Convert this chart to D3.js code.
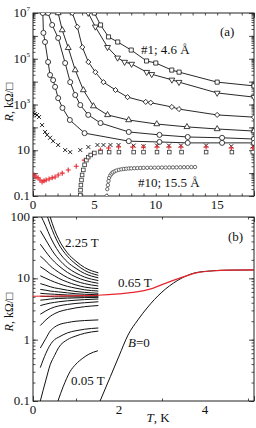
<!DOCTYPE html>
<html>
<head>
<meta charset="utf-8">
<script src="https://cdn.jsdelivr.net/npm/d3@7"></script>
<style>
body { margin: 0; background: #fff; }
</style>
</head>
<body>
<div id="chart"></div>
<script>
// ---- panel (a): R(T) of the film series, T in K, R in kOhm/sq ----
var sqT = [5.0, 5.5, 6.15, 6.9, 8.0, 9.25, 10.0, 11.3, 11.9, 15.0, 18.0];
var sqR = [1e7, 3.0e6, 9e5, 5.4e5, 2.4e5, 8e4, 6.5e4, 3.2e4, 2.6e4, 9.5e3, 6.5e3];
var tdT = [4.5, 5.08, 6.07, 6.89, 7.46, 8.03, 9.26, 9.67, 11.31, 11.89, 15.0, 18.0];
var tdR = [1e7, 2.5e6, 3.2e5, 1.1e5, 7.2e4, 5.9e4, 2.6e4, 2.1e4, 1.2e4, 9.5e3, 3.2e3, 2.1e3];
var dmT = [3.2, 3.61, 4.02, 4.51, 5.08, 5.74, 6.72, 7.7, 9.18, 9.59, 11.31, 11.89, 15.0, 18.0];
var dmR = [1e7, 2.5e6, 3.2e5, 7.2e4, 2.6e4, 9.5e3, 4.3e3, 2.1e3, 1.3e3, 1.2e3, 780, 630, 350, 280];
var tuT = [2.05, 2.38, 2.87, 3.44, 4.1, 4.92, 6.07, 7.79, 10.08, 12.54, 15.0, 18.0];
var tuR = [1e7, 1.8e6, 3e5, 3.2e4, 4.3e3, 850, 350, 210, 140, 105, 85, 69];
var c1T = [1.23, 1.56, 2.05, 2.62, 3.03, 3.44, 3.85, 4.5, 5.5, 7.8, 10.3, 12.6, 15.4, 18.0];
var c1R = [1e7, 3e6, 8.1e5, 6.5e4, 9.5e3, 2.6e3, 950, 350, 155, 63, 47, 38, 35, 31];
var c2T = [0.8, 0.85, 0.98, 1.23, 1.39, 1.64, 1.8, 2.05, 2.4, 3.0, 4.2, 7.8, 10.3, 12.6, 15.4, 18.0];
var c2R = [1e7, 1.35e6, 5.4e5, 7.2e4, 1.95e4, 1.17e4, 5.9e3, 1.9e3, 710, 210, 56, 25, 23, 21, 21, 21];

var xT = [0, 0.16, 0.33, 0.49, 0.74, 0.98, 1.15, 1.39, 1.64, 2.05, 2.62, 3.03, 3.85, 4.51, 5.25, 5.74, 6.31, 6.97, 8.2, 9.0, 10.1, 11.07, 12.05, 14.1, 16.15, 17.9];
var xR = [430, 380, 347, 282, 126, 63, 47, 35, 25, 17, 10.2, 8.3, 10.2, 13.8, 17, 17, 17, 17, 16, 15, 16, 16, 16, 16, 15, 15];
var pT = [0.08, 0.25, 0.41, 0.57, 0.74, 0.9, 1.07, 1.31, 1.56, 1.8, 2.05, 2.38, 2.87, 3.52, 4.18, 4.84, 5.49, 6.15, 6.97, 8.11, 9.0, 10.1, 11.07, 12.05, 14.1, 16.15, 17.9];
var pR = [0.83, 0.68, 0.62, 0.5, 0.41, 0.46, 0.5, 0.55, 0.62, 0.68, 0.83, 1.0, 1.38, 2.0, 3.7, 6.9, 10.2, 12.6, 13.8, 13.8, 13.8, 13.8, 13.8, 13.8, 13.8, 12.6, 12.6];
var bT = [3.85, 3.87, 3.9, 3.95, 4.0, 4.1, 4.2, 4.35, 4.5, 4.7, 5.0, 5.5, 6.2, 7.0, 8.2, 9.0, 10.1, 11.1, 12.1, 14.1, 16.2, 17.9];
var bR = [0.11, 0.18, 0.3, 0.5, 0.83, 1.38, 2.3, 3.7, 5.0, 6.2, 7.6, 8.3, 8.3, 8.3, 8.3, 8.3, 8.3, 8.3, 8.3, 8.3, 8.3, 8.3];
var f10T = [6.0, 6.05, 6.1, 6.15, 6.2, 6.3, 6.4, 6.5, 6.65, 6.8, 7.0, 7.2, 7.4, 7.6, 7.8, 8.0, 8.25, 8.5, 8.75, 9.0, 9.3, 9.6, 9.9, 10.2, 10.5, 10.8, 11.1, 11.4, 11.7, 12.0, 12.3, 12.6, 12.9, 13.2];
var f10R = [0.1, 0.2, 0.3, 0.45, 0.62, 0.8, 0.95, 1.08, 1.2, 1.3, 1.4, 1.47, 1.52, 1.56, 1.6, 1.62, 1.64, 1.66, 1.68, 1.7, 1.71, 1.72, 1.73, 1.74, 1.75, 1.76, 1.77, 1.78, 1.79, 1.8, 1.81, 1.82, 1.83, 1.84];

var aYTicks = [0.1, 10, 1e3, 1e5, 1e7];
var aXTicks = [0, 5, 10, 15];

// ---- panel (b): R(T) in fields 0.05 ... 2.25 T ----
var fanT = [0.17, 0.3, 0.4, 0.5, 0.6, 0.8, 1.0, 1.2, 1.52];
var fanR = [
  [400, 180, 100, 62, 43, 26, 19, 15, 12.3],
  [230, 120, 75, 50, 36, 23, 17, 13.5, 11.2],
  [110, 70, 48, 35, 27, 18.5, 14.5, 12, 10.2],
  [60, 42, 32, 25, 20.5, 15, 12.2, 10.5, 9.2],
  [36, 27, 22, 18.5, 16, 12.5, 10.5, 9.3, 8.3],
  [23, 19, 16, 14, 12.5, 10.3, 9.0, 8.2, 7.5],
  [15.5, 13.5, 12, 11, 10, 8.7, 7.8, 7.2, 6.8],
  [11, 10, 9.3, 8.7, 8.2, 7.4, 6.9, 6.5, 6.2],
  [8.2, 7.7, 7.3, 7.0, 6.8, 6.4, 6.1, 5.9, 5.7],
  [6.6, 6.4, 6.2, 6.1, 6.0, 5.8, 5.6, 5.5, 5.4],
  [5.7, 5.6, 5.55, 5.5, 5.45, 5.35, 5.3, 5.25, 5.2],
  [5.1, 5.05, 5.05, 5.0, 5.0, 5.0, 5.0, 5.0, 5.0],
  [4.4, 4.5, 4.6, 4.65, 4.7, 4.75, 4.8, 4.85, 4.9],
  [3.6, 3.8, 3.95, 4.05, 4.15, 4.3, 4.4, 4.5, 4.6],
  [2.6, 2.95, 3.2, 3.4, 3.55, 3.75, 3.9, 4.0, 4.15],
  [1.7, 2.1, 2.4, 2.65, 2.85, 3.1, 3.3, 3.45, 3.6],
  [0.73, 1.05, 1.38, 1.6, 1.75, 1.9, 2.0, 2.05, 2.1],
  [0.35, 0.6, 0.82, 1.0, 1.1, 1.29, 1.4, 1.48, 1.55],
  [0.1, 0.22, 0.39, 0.55, 0.75, 1.0, 1.15, 1.27, 1.38]
];
var lowT = [0.58, 0.7, 0.86, 1.0, 1.16, 1.3, 1.51];
var lowR = [0.1, 0.17, 0.3, 0.4, 0.5, 0.58, 0.66];
var zeroT = [1.56, 1.8, 2.0, 2.21, 2.44, 2.67, 2.98, 3.37, 3.77, 4.14, 4.5, 5.2];
var zeroR = [0.1, 0.25, 0.54, 1.19, 2.1, 3.4, 5.8, 9.3, 12.3, 13.2, 13.6, 13.7];
var redT = [0, 0.5, 1.0, 1.5, 2.0, 2.4, 2.7, 3.0, 3.4, 3.8, 4.2, 4.6, 5.2];
var redR = [5.1, 5.15, 5.2, 5.3, 5.6, 6.0, 6.6, 7.9, 10.0, 12.3, 13.3, 13.6, 13.7];

var bYTicks = [0.1, 1, 10, 100];
var bXTicks = [0, 2, 4];

var RED = '#e8262e';
var svg = d3.select('#chart').append('svg').attr('width', 256).attr('height', 428)
    .attr('font-family', '"Liberation Serif", "Times New Roman", "DejaVu Serif", serif')
    .attr('fill', '#111');

function zip(t, r) {
    return t.map(function(d, i) { return [d, r[i]]; });
}

// frame, ticks on all four sides
function panel(id, box, x, y, xMinor, yMajor, yMinor) {
    var g = svg.append('g');
    g.append('clipPath').attr('id', id).append('rect')
        .attr('x', box.l).attr('y', box.t).attr('width', box.r - box.l).attr('height', box.b - box.t);
    var ax = [
        [d3.axisBottom(x), 'translate(0,' + box.b + ')', xMinor, x.domain()],
        [d3.axisTop(x), 'translate(0,' + box.t + ')', xMinor, x.domain()],
        [d3.axisLeft(y), 'translate(' + box.l + ',0)', yMinor, yMajor],
        [d3.axisRight(y), 'translate(' + box.r + ',0)', yMinor, yMajor]
    ];
    ax.forEach(function(a) {
        g.append('g').attr('transform', a[1])
            .call(a[0].tickValues(a[2]).tickSize(-2.5).tickFormat(''))
            .call(function(s) { s.select('.domain').remove(); });
        g.append('g').attr('transform', a[1])
            .call(a[0].tickValues(a[3]).tickSize(-5).tickFormat(''))
            .call(function(s) { s.select('.domain').remove(); });
    });
    g.selectAll('.tick line').attr('stroke', '#222').attr('stroke-width', 0.8);
    g.append('rect').attr('x', box.l).attr('y', box.t)
        .attr('width', box.r - box.l).attr('height', box.b - box.t)
        .attr('fill', 'none').attr('stroke', '#222').attr('stroke-width', 1);
    return svg.append('g').attr('clip-path', 'url(#' + id + ')');
}

function ylabel(cy) {
    var t = svg.append('text').attr('transform', 'translate(13,' + cy + ') rotate(-90)')
        .attr('text-anchor', 'middle').attr('font-size', 12);
    t.append('tspan').attr('font-style', 'italic').text('R');
    t.append('tspan').text(', kΩ/□');
}

function minorLog(lo, hi) {
    var out = [];
    for (var e = lo; e < hi; e++) for (var k = 1; k < 10; k++) out.push(k * Math.pow(10, e));
    out.push(Math.pow(10, hi));
    return out;
}

// ================= panel (a) =================
var boxA = {l: 33, r: 254, t: 13, b: 196};
var xa = d3.scaleLinear().domain([0, 18]).range([boxA.l, boxA.r]);
var ya = d3.scaleLog().domain([0.1, 1e7]).range([boxA.b, boxA.t]);
var pa = panel('clipA', boxA, xa, ya, d3.range(0, 19, 1), d3.range(-1, 8).map(function(e) { return Math.pow(10, e); }), minorLog(-1, 7));

var lineA = d3.line().x(function(d) { return xa(d[0]); }).y(function(d) { return ya(d[1]); });

var marked = [
    [sqT, sqR, d3.symbolSquare, 17, 0],
    [tdT, tdR, d3.symbolTriangle, 15, 180],
    [dmT, dmR, d3.symbolSquare, 13, 45],
    [tuT, tuR, d3.symbolTriangle, 15, 0],
    [c1T, c1R, d3.symbolCircle, 20, 0],
    [c2T, c2R, d3.symbolCircle, 20, 0]
];
marked.forEach(function(s) {
    var pts = zip(s[0], s[1]);
    pa.append('path').datum(pts).attr('d', lineA)
        .attr('fill', 'none').attr('stroke', '#111').attr('stroke-width', 0.9);
    pa.selectAll(null).data(pts).enter().append('path')
        .attr('d', d3.symbol().type(s[2]).size(s[3]))
        .attr('transform', function(d) { return 'translate(' + xa(d[0]) + ',' + ya(d[1]) + ') rotate(' + s[4] + ')'; })
        .attr('fill', '#fff').attr('stroke', '#111').attr('stroke-width', 0.8);
});

// crosses
pa.selectAll(null).data(zip(xT, xR)).enter().append('path')
    .attr('d', 'M-2,-2L2,2M-2,2L2,-2')
    .attr('transform', function(d) { return 'translate(' + xa(d[0]) + ',' + ya(d[1]) + ')'; })
    .attr('stroke', '#111').attr('stroke-width', 0.9).attr('fill', 'none');
// red plus
pa.selectAll(null).data(zip(pT, pR)).enter().append('path')
    .attr('d', 'M-2.5,0L2.5,0M0,-2.5L0,2.5')
    .attr('transform', function(d) { return 'translate(' + xa(d[0]) + ',' + ya(d[1]) + ')'; })
    .attr('stroke', RED).attr('stroke-width', 1.1).attr('fill', 'none');
// small squares
pa.selectAll(null).data(zip(bT, bR)).enter().append('rect')
    .attr('x', function(d) { return xa(d[0]) - 1.8; }).attr('y', function(d) { return ya(d[1]) - 1.8; })
    .attr('width', 3.6).attr('height', 3.6)
    .attr('fill', '#fff').attr('stroke', '#333').attr('stroke-width', 0.8);
// film #10, dense markers
pa.selectAll(null).data(zip(f10T, f10R)).enter().append('circle')
    .attr('cx', function(d) { return xa(d[0]); }).attr('cy', function(d) { return ya(d[1]); })
    .attr('r', 1.7).attr('fill', '#fff').attr('stroke', '#333').attr('stroke-width', 0.7);

// tick labels (a)
svg.selectAll(null).data(aXTicks).enter().append('text')
    .attr('x', xa).attr('y', boxA.b + 13).attr('text-anchor', 'middle').attr('font-size', 13)
    .text(function(d) { return d; });
aYTicks.forEach(function(v) {
    var e = Math.round(Math.log10(v));
    var t = svg.append('text').attr('x', 30).attr('y', ya(v) + 4).attr('text-anchor', 'end').attr('font-size', 13);
    if (e >= 3) {
        t.append('tspan').text('10');
        t.append('tspan').attr('font-size', 7).attr('dy', -6).text(e);
    } else {
        t.text(v === 0.1 ? '0.1' : '10');
    }
});
ylabel(102);
svg.append('text').attr('x', 220).attr('y', 36).attr('font-size', 13).text('(a)');
svg.append('text').attr('x', 141).attr('y', 54).attr('font-size', 13).text('#1;  4.6 Å');
svg.append('text').attr('x', 138).attr('y', 187).attr('font-size', 13).text('#10;  15.5 Å');

// ================= panel (b) =================
var boxB = {l: 33, r: 254, t: 217, b: 401};
var xb = d3.scaleLinear().domain([0, 5.14]).range([boxB.l, boxB.r]);
var yb = d3.scaleLog().domain([0.1, 100]).range([boxB.b, boxB.t]);
var pb = panel('clipB', boxB, xb, yb, [1, 3, 5], [0.1, 1, 10, 100], minorLog(-1, 2));

var lineB = d3.line().curve(d3.curveMonotoneX).x(function(d) { return xb(d[0]); }).y(function(d) { return yb(d[1]); });

fanR.forEach(function(r) {
    pb.append('path').datum(zip(fanT, r)).attr('d', lineB)
        .attr('fill', 'none').attr('stroke', '#111').attr('stroke-width', 1);
});
pb.append('path').datum(zip(lowT, lowR)).attr('d', lineB)
    .attr('fill', 'none').attr('stroke', '#111').attr('stroke-width', 1);
pb.append('path').datum(zip(zeroT, zeroR)).attr('d', lineB)
    .attr('fill', 'none').attr('stroke', '#111').attr('stroke-width', 1);
pb.append('path').datum(zip(redT, redR)).attr('d', lineB)
    .attr('fill', 'none').attr('stroke', RED).attr('stroke-width', 1.2);

svg.selectAll(null).data(bXTicks).enter().append('text')
    .attr('x', xb).attr('y', boxB.b + 13).attr('text-anchor', 'middle').attr('font-size', 13)
    .text(function(d) { return d; });
svg.selectAll(null).data(bYTicks).enter().append('text')
    .attr('x', 30).attr('y', function(d) { return yb(d) + 4; }).attr('text-anchor', 'end').attr('font-size', 13)
    .text(function(d) { return d; });
ylabel(312);
var tl = svg.append('text').attr('x', 158).attr('y', 422).attr('text-anchor', 'middle').attr('font-size', 13);
tl.append('tspan').attr('font-style', 'italic').text('T');
tl.append('tspan').text(', K');

svg.append('text').attr('x', 228).attr('y', 241).attr('font-size', 13).text('(b)');
svg.append('text').attr('x', 65).attr('y', 247).attr('font-size', 13).text('2.25 T');
svg.append('text').attr('x', 118).attr('y', 287).attr('font-size', 13).text('0.65 T');
svg.append('text').attr('x', 71).attr('y', 385).attr('font-size', 13).text('0.05 T');
var b0 = svg.append('text').attr('x', 128).attr('y', 347).attr('font-size', 13);
b0.append('tspan').attr('font-style', 'italic').text('B');
b0.append('tspan').text('=0');
</script>
</body>
</html>
